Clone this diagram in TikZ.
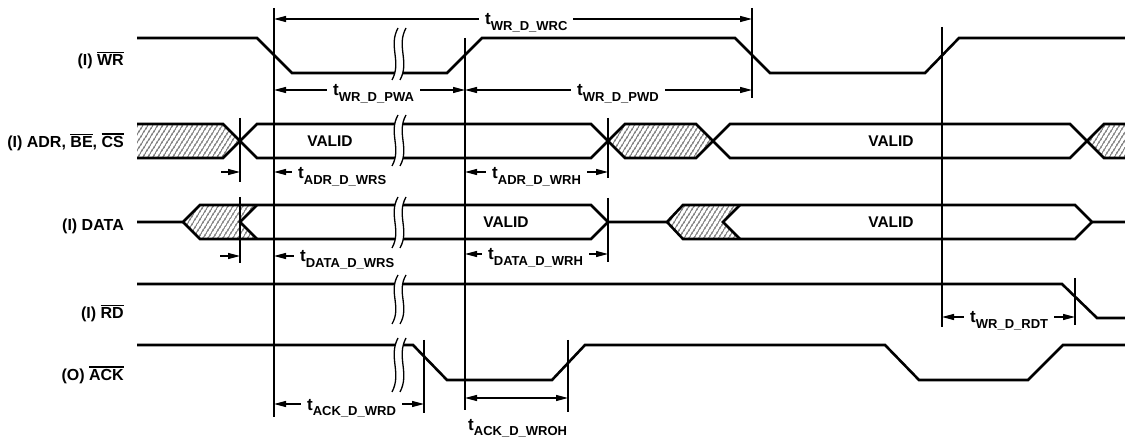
\documentclass[tikz,border=0pt]{standalone}
\usepackage{fontspec}
\setmainfont{Liberation Sans}
\usetikzlibrary{arrows.meta,patterns.meta}

\newcommand{\ovl}[1]{\vbox{\hrule height 1.2pt\kern 2.2pt\hbox{#1}}}
\newcommand{\tsub}[1]{{\fontsize{17}{17}\selectfont t}\raisebox{-5.5pt}{\fontsize{13}{13}\selectfont #1}}

\tikzset{
  sig/.style={line width=2.6pt},
  guide/.style={line width=1.3pt},
  dim/.style={line width=1.3pt, -{Triangle[length=12pt,width=6pt]}},
  dimboth/.style={line width=1.3pt, {Triangle[length=12pt,width=6pt]}-{Triangle[length=12pt,width=6pt]}},
  hatch/.style={pattern={Lines[angle=58,distance=4pt,line width=1.2pt]}, pattern color=black!72},
  signame/.style={anchor=base east, inner sep=0pt, font=\fontsize{16}{16}\selectfont\bfseries},
  valid/.style={inner sep=0pt, font=\fontsize{15.5}{15.5}\selectfont\bfseries},
  tlabel/.style={anchor=base west, fill=white, inner xsep=6pt, inner ysep=1pt, font=\bfseries},
}

\begin{document}
\begin{tikzpicture}[x=1pt,y=-1pt]
  \useasboundingbox (0,0) rectangle (1125,438);

  % signal names
  \node[signame] (nWR)   at (124,66)  {(I) \ovl{WR}};
  \node[signame] (nADR)  at (124,148) {(I) ADR, \ovl{BE}, \ovl{CS}};
  \node[signame] (nDATA) at (124,231) {(I) DATA};
  \node[signame] (nRD)   at (124,319) {(I) \ovl{RD}};
  \node[signame] (nACK)  at (124,381) {(O) \ovl{ACK}};

  % hatched (invalid) regions
  \fill[hatch] (137,124) -- (223,124) -- (240,141) -- (223,158) -- (137,158) -- cycle;
  \fill[hatch] (608,141) -- (625,124) -- (696,124) -- (713,141) -- (696,158) -- (625,158) -- cycle;
  \fill[hatch] (1087,141) -- (1104,124) -- (1125,124) -- (1125,158) -- (1104,158) -- cycle;
  \fill[hatch] (183,222) -- (200,205) -- (257,205) -- (240,222) -- (257,239) -- (200,239) -- cycle;
  \fill[hatch] (667,222) -- (683,205) -- (740,205) -- (723,222) -- (740,239) -- (683,239) -- cycle;

  % waveforms
  \begin{scope}[sig]
    \draw (137,38) -- (257,38) -- (292,73) -- (447,73) -- (482,38) -- (735,38)
      -- (770,73) -- (925,73) -- (959,38) -- (1125,38);
    \draw (137,124) -- (223,124) -- (257,158) -- (591,158) -- (625,124) -- (696,124)
      -- (730,158) -- (1070,158) -- (1104,124) -- (1125,124);
    \draw (137,158) -- (223,158) -- (257,124) -- (591,124) -- (625,158) -- (696,158)
      -- (730,124) -- (1070,124) -- (1104,158) -- (1125,158);
    \draw (137,222) -- (183,222) -- (200,205) -- (591,205) -- (608,222) -- (667,222)
      -- (683,205) -- (1075,205) -- (1092,222) -- (1125,222);
    \draw (183,222) -- (200,239) -- (591,239) -- (608,222);
    \draw (667,222) -- (683,239) -- (1075,239) -- (1092,222);
    \draw (257,205) -- (240,222) -- (257,239);
    \draw (740,205) -- (723,222) -- (740,239);
    \draw (137,284) -- (1062,284) -- (1097,318) -- (1125,318);
    \draw (137,345) -- (413,345) -- (447,380) -- (552,380) -- (585,345) -- (885,345)
      -- (919,380) -- (1028,380) -- (1063,345) -- (1125,345);
  \end{scope}

  % break marks
  \foreach \tp/\bt in {28/80,115/166,197/248,275/324,338/392} {
    \pgfmathsetmacro{\ca}{\tp+0.35*(\bt-\tp)}
    \pgfmathsetmacro{\cb}{\bt-0.35*(\bt-\tp)}
    \fill[white] (398,\tp) .. controls (388,\ca) and (402,\cb) .. (392,\bt)
      -- (400,\bt) .. controls (410,\cb) and (396,\ca) .. (406,\tp) -- cycle;
    \draw[guide] (398,\tp) .. controls (388,\ca) and (402,\cb) .. (392,\bt);
    \draw[guide] (406,\tp) .. controls (396,\ca) and (410,\cb) .. (400,\bt);
  }

  % reference lines
  \begin{scope}[guide]
    \draw (274,8) -- (274,417);
    \draw (465,38) -- (465,410);
    \draw (752,8) -- (752,98);
    \draw (942,27) -- (942,327);
    \draw (240,118) -- (240,182);
    \draw (240,197) -- (240,263);
    \draw (608,118) -- (608,178);
    \draw (608,198) -- (608,262);
    \draw (1075,278) -- (1075,325);
    \draw (424,340) -- (424,413);
    \draw (568,340) -- (568,412);
  \end{scope}

  % timing arrows
  \draw[dimboth] (274,19) -- (752,19);
  \draw[dimboth] (274,90) -- (465,90);
  \draw[dimboth] (465,90) -- (752,90);
  \draw[dim] (221,172) -- (240,172);
  \draw[dim] (294,172) -- (274,172);
  \draw[dimboth] (465,172) -- (608,172);
  \draw[dim] (220,256) -- (240,256);
  \draw[dim] (294,256) -- (274,256);
  \draw[dimboth] (465,254) -- (608,254);
  \draw[dimboth] (942,317) -- (1075,317);
  \draw[dimboth] (274,404) -- (424,404);
  \draw[dimboth] (465,398) -- (568,398);

  % timing labels
  \node[tlabel] (tWRC)   at (479,25)  {\tsub{WR\_D\_WRC}};
  \node[tlabel] (tPWA)   at (327,96)  {\tsub{WR\_D\_PWA}};
  \node[tlabel] (tPWD)   at (571,96)  {\tsub{WR\_D\_PWD}};
  \node[tlabel] (tADRS)  at (292,179) {\tsub{ADR\_D\_WRS}};
  \node[tlabel] (tADRH)  at (486,179) {\tsub{ADR\_D\_WRH}};
  \node[tlabel] (tDATAS) at (294,262) {\tsub{DATA\_D\_WRS}};
  \node[tlabel] (tDATAH) at (482,260) {\tsub{DATA\_D\_WRH}};
  \node[tlabel] (tRDT)   at (964,323) {\tsub{WR\_D\_RDT}};
  \node[tlabel] (tACKD)  at (301,410) {\tsub{ACK\_D\_WRD}};
  \node[tlabel] (tACKOH) at (462,430) {\tsub{ACK\_D\_WROH}};

  % bus values
  \node[valid] (vADR1)  at (330,141) {VALID};
  \node[valid] (vADR2)  at (891,141) {VALID};
  \node[valid] (vDATA1) at (506,222) {VALID};
  \node[valid] (vDATA2) at (891,222) {VALID};
\end{tikzpicture}
\end{document}
